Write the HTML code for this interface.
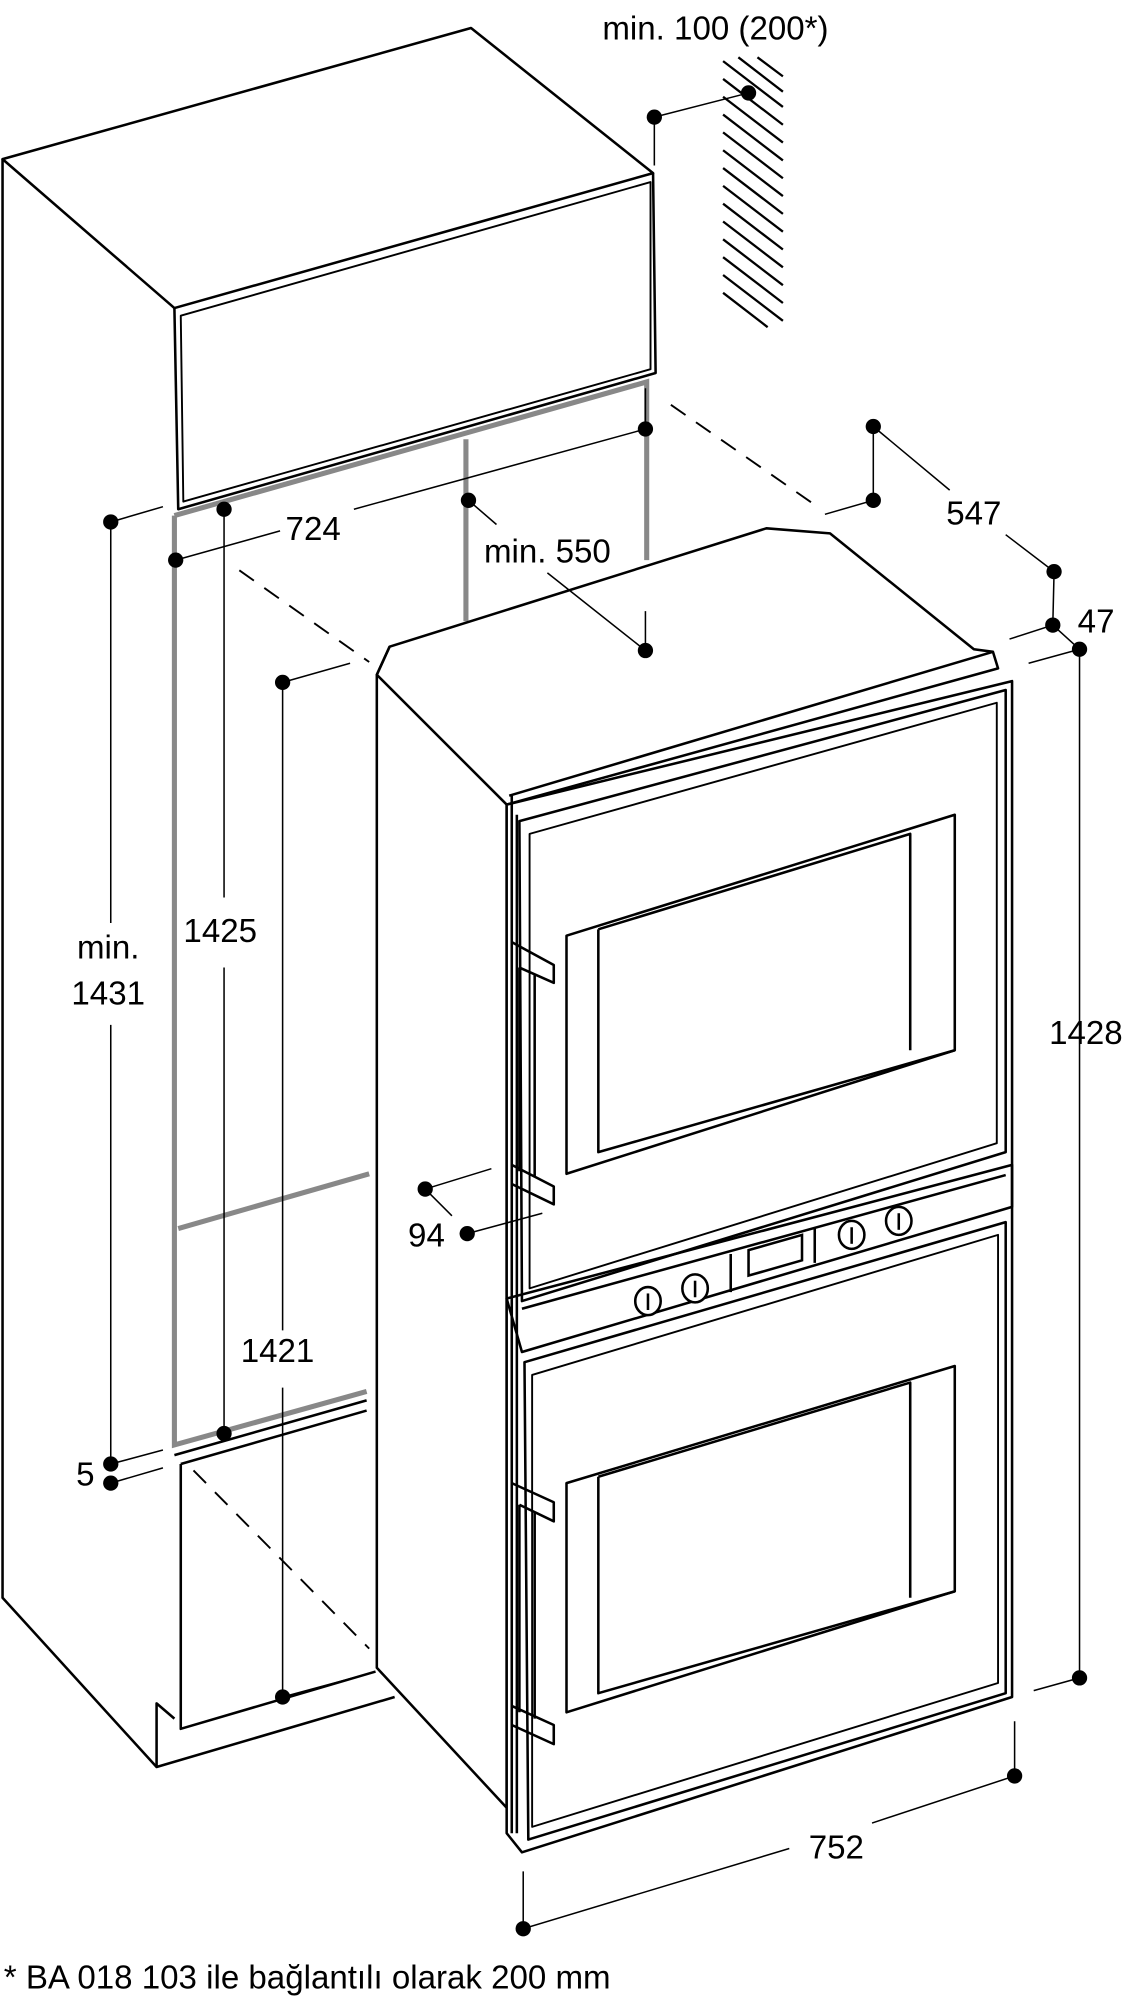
<!DOCTYPE html>
<html><head><meta charset="utf-8"><style>
html,body{margin:0;padding:0;background:#fff;}
svg{display:block;}
text{font-family:"Liberation Sans",sans-serif;fill:#000;}
</style></head><body>
<svg width="1133" height="2000" viewBox="0 0 890 1571" preserveAspectRatio="none" xmlns="http://www.w3.org/2000/svg">
<g fill="none" stroke="#000" stroke-width="2" stroke-linejoin="round">
<path d="M2,125 L370,22 L513,136 L137,242 Z"/>
<path d="M137,242 L140,400 L515,293 L513,136"/>
<path d="M142,248 L511,143 L511,290 L144,394 Z" stroke-width="1.5"/>
<path d="M2,125 L2,1255 L123,1388 L310,1333"/>
<path d="M123,1388 L123,1338 L137,1350"/>
<path d="M137,1143 L288,1100"/>
<path d="M142,1150 L142,1358 L295,1313"/>
<path d="M142,1150 L288,1108"/>
</g>
<g fill="none" stroke="#888" stroke-width="4">
<path d="M137,405 L508,300 L508,440"/>
<path d="M137,405 L137,1135 L288,1093"/>
<path d="M140,965 L290,922"/>
<path d="M366,345 L366,488"/>
</g>
<g stroke="#000" stroke-width="1.8">
<line x1="568" y1="48" x2="615" y2="84"/><line x1="568" y1="62" x2="615" y2="98"/>
<line x1="568" y1="76" x2="615" y2="112"/><line x1="568" y1="90" x2="615" y2="126"/>
<line x1="568" y1="104" x2="615" y2="140"/><line x1="568" y1="118" x2="615" y2="154"/>
<line x1="568" y1="132" x2="615" y2="168"/><line x1="568" y1="146" x2="615" y2="182"/>
<line x1="568" y1="160" x2="615" y2="196"/><line x1="568" y1="174" x2="615" y2="210"/>
<line x1="568" y1="188" x2="615" y2="224"/><line x1="568" y1="202" x2="615" y2="238"/>
<line x1="568" y1="216" x2="615" y2="252"/><line x1="580" y1="45" x2="615" y2="72"/>
<line x1="595" y1="45" x2="615" y2="60"/><line x1="568" y1="230" x2="603" y2="257"/>
</g>
<g fill="#fff" stroke="#000" stroke-width="2" stroke-linejoin="round">
<path d="M296,530 L306,508 L602,415 L652,419 L765,510 L780,512 L784,525 L398,632 L398,1420 L296,1310 Z"/>
<path d="M398,632 L795,535 L795,1333 L410,1455 L398,1440 Z"/>
</g>
<g fill="none" stroke="#000" stroke-width="2" stroke-linejoin="round">
<path d="M306,508 L296,530 L398,632"/>
<path d="M400,625 L780,512"/>
<path d="M408,645 L790,542 L790,905 L410,1022 Z"/>
<path d="M416,655 L783,552 L783,898 L416,1012 Z" stroke-width="1.5"/>
<path d="M445,735 L750,640 L750,825 L445,922 Z"/>
<path d="M470,730 L715,655 L715,825 M470,730 L470,905 L750,825"/>
<path d="M398,1020 L795,915 L795,948 L410,1062 Z"/>
<path d="M410,1028 L790,923"/>
<path d="M412,1070 L790,960 L790,1330 L415,1445 Z"/>
<path d="M418,1080 L784,970 L784,1322 L418,1435 Z" stroke-width="1.5"/>
<path d="M445,1165 L750,1073 L750,1250 L445,1345 Z"/>
<path d="M470,1160 L715,1086 L715,1255 M470,1160 L470,1330 L750,1250"/>
<path d="M574,985 L574,1015 M640,964 L640,992"/>
<path d="M402,740 L435,758 L435,772 L408,760 M408,760 L408,920 M420,765 L420,925 M402,915 L435,932 L435,946 L402,930 Z"/>
<path d="M402,1165 L435,1180 L435,1195 L408,1182 M408,1182 L408,1345 M420,1188 L420,1350 M402,1340 L435,1355 L435,1370 L402,1355 Z"/>
<path d="M402,625 L402,1440 M406,640 L406,1440"/>
</g>
<g fill="#fff" stroke="#000" stroke-width="2">
<ellipse cx="509" cy="1022" rx="10" ry="11"/><ellipse cx="546" cy="1012" rx="10" ry="11"/>
<ellipse cx="669" cy="970" rx="10" ry="11"/><ellipse cx="706" cy="959" rx="10" ry="11"/>
<path d="M588,982 L630,970 L630,990 L588,1002 Z"/>
</g>
<g stroke="#000" stroke-width="2">
<line x1="509" y1="1016" x2="509" y2="1029"/><line x1="546" y1="1006" x2="546" y2="1019"/>
<line x1="669" y1="964" x2="669" y2="977"/><line x1="706" y1="953" x2="706" y2="966"/>
</g>
<g stroke="#000" stroke-width="1.5" stroke-dasharray="14,10" fill="none">
<line x1="527" y1="318" x2="645" y2="400"/>
<line x1="188" y1="448" x2="290" y2="520"/>
<line x1="152" y1="1155" x2="290" y2="1295"/>
</g>
<g stroke="#000" stroke-width="1.2" fill="none">
<path d="M514,92 L588,73 M514,92 L514,130"/>
<path d="M686,335 L686,393 L648,404 M686,335 L746,385"/>
<path d="M790,420 L828,449 L827,491 L793,502"/>
<path d="M827,491 L848,510 M848,510 L808,521 M848,510 L848,1318 L812,1328"/>
<path d="M797,1352 L797,1395 L685,1432 M620,1452 L411,1515 L411,1470"/>
<path d="M138,440 L220,417 M278,400 L507,337 L507,305"/>
<path d="M368,393 L390,412 M430,450 L507,511 L507,480"/>
<path d="M87,410 L128,398 M87,410 L87,725 M87,805 L87,1150 L128,1139 M87,1165 L128,1153"/>
<path d="M176,400 L176,705 M176,760 L176,1126"/>
<path d="M222,536 L275,521 M222,536 L222,1045 M222,1090 L222,1333 L292,1314"/>
<path d="M334,934 L386,918 M334,934 L355,955 M367,969 L426,953"/>
</g>
<g fill="#000">
<circle cx="514" cy="92" r="6"/><circle cx="588" cy="73" r="6"/>
<circle cx="686" cy="335" r="6"/><circle cx="686" cy="393" r="6"/>
<circle cx="828" cy="449" r="6"/><circle cx="827" cy="491" r="6"/>
<circle cx="848" cy="510" r="6"/><circle cx="848" cy="1318" r="6"/>
<circle cx="797" cy="1395" r="6"/><circle cx="411" cy="1515" r="6"/>
<circle cx="507" cy="337" r="6"/><circle cx="138" cy="440" r="6"/>
<circle cx="368" cy="393" r="6"/><circle cx="507" cy="511" r="6"/>
<circle cx="87" cy="410" r="6"/><circle cx="87" cy="1150" r="6"/><circle cx="87" cy="1165" r="6"/>
<circle cx="176" cy="400" r="6"/><circle cx="176" cy="1126" r="6"/>
<circle cx="222" cy="536" r="6"/><circle cx="222" cy="1333" r="6"/>
<circle cx="334" cy="934" r="6"/><circle cx="367" cy="969" r="6"/>
</g>
<g font-size="26" text-anchor="middle">
<text x="562" y="31">min. 100 (200*)</text>
<text x="765" y="412">547</text>
<text x="861" y="497">47</text>
<text x="853" y="820">1428</text>
<text x="657" y="1460">752</text>
<text x="246" y="424">724</text>
<text x="430" y="442">min. 550</text>
<text x="85" y="753">min.</text>
<text x="85" y="789">1431</text>
<text x="173" y="740">1425</text>
<text x="218" y="1070">1421</text>
<text x="335" y="979">94</text>
<text x="67" y="1167">5</text>
</g>
<text x="3" y="1562" font-size="26">* BA 018 103 ile bağlantılı olarak 200 mm</text>
</svg>
</body></html>
